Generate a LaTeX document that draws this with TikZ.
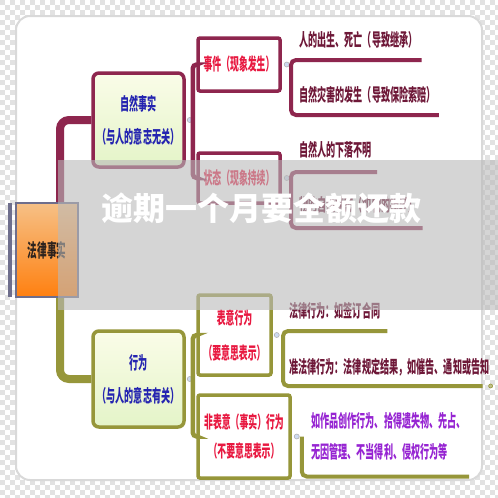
\documentclass[tikz,border=0pt]{standalone}
\usepackage{fontspec}
\usetikzlibrary{calc}
\newfontfamily\cjk[FakeStretch=0.52]{Noto Sans CJK SC}
\newfontfamily\wmfont{Noto Sans CJK SC}
\definecolor{maroonline}{RGB}{142,38,78}
\definecolor{oliveline}{RGB}{150,150,58}
\definecolor{boxred}{RGB}{232,24,64}
\definecolor{boxblue}{RGB}{36,36,176}
\definecolor{leafred}{RGB}{110,24,56}
\definecolor{leafpurple}{RGB}{150,36,210}
\definecolor{checkgray}{RGB}{226,226,226}
\definecolor{dotblue}{RGB}{205,218,242}
\definecolor{rootedge}{RGB}{110,110,140}
\definecolor{rootlight}{RGB}{246,192,134}
\definecolor{rootdark}{RGB}{255,128,16}
\definecolor{boxlight}{RGB}{250,252,232}
\definecolor{boxgreen}{RGB}{228,244,200}
\definecolor{veil}{RGB}{185,185,185}
\tikzset{
  bigbox/.style={rounded corners=6pt, line width=3.5pt, top color=boxlight, bottom color=boxgreen,
    text=boxblue, align=center, minimum width=91pt, inner sep=0pt,
    font=\cjk\bfseries\fontsize{17.5}{33}\selectfont},
  smallbox/.style={rounded corners=2pt, line width=3.5pt, fill=white, text=boxred, align=center,
    inner sep=0pt, font=\cjk\bfseries\fontsize{17}{33}\selectfont},
  rootbox/.style={draw=rootedge, line width=2pt, top color=rootlight, bottom color=rootdark,
    minimum width=62pt, minimum height=94pt, inner sep=0pt, text={rgb,255:red,45;green,35;blue,30},
    font=\cjk\bfseries\fontsize{18.5}{18}\selectfont},
  leaf/.style={anchor=west, inner sep=0pt, text=leafred,
    font=\cjk\bfseries\fontsize{17.5}{31}\selectfont},
  dot/.style={circle, minimum size=5pt, inner sep=0pt, fill=dotblue, draw=gray!60, line width=.6pt},
  mline/.style={draw=maroonline, line width=4.5pt},
  oline/.style={draw=oliveline, line width=4.5pt}
}
\begin{document}
\begin{tikzpicture}[x=1pt, y=-1pt]
\useasboundingbox (0,0) rectangle (498,498);
\fill[white] (0,0) rectangle (498,498);
\foreach \j in {0,...,99}{
  \pgfmathsetmacro\ph{5*mod(\j,2)}
  \draw[checkgray, line width=5pt, dash pattern=on 5pt off 5pt, dash phase=\ph pt] (0,\j*5+2.5) -- (498,\j*5+2.5);
}
\fill[white, rounded corners=14pt] (16,16) rectangle (482,480);
\draw[gray!30, line width=2pt, rounded corners=14pt] (16,16) rectangle (482,480);

\fill[rootedge] (8,203) rectangle (12,297);
\node[rootbox] (root) at (47,250) {法律事实};

\node[bigbox, draw=maroonline, minimum height=94pt] (nat) at (138.5,120) {自然事实\\（与人的意志无关）};
\node[bigbox, draw=oliveline, minimum height=96pt] (act) at (138.5,379) {行为\\（与人的意志有关）};
\draw[mline, line width=8pt, rounded corners=9pt] ([xshift=13pt]root.north) |- (nat.west);
\draw[oline, line width=8pt, rounded corners=9pt] ([xshift=13pt]root.south) |- (act.west);
\node[dot] at ($(nat.east)+(4,0)$) {};
\node[dot] at ($(act.east)+(4,0)$) {};

\node[smallbox, draw=maroonline, minimum width=82pt, minimum height=53pt] (evt) at (239,64.5) {事件（现象发生）};
\node[smallbox, draw=maroonline, minimum width=82pt, minimum height=50pt] (sta) at (239,178) {状态（现象持续）};
\draw[mline, rounded corners=4pt] (evt.west) -- ++(-3.5,0) |- (sta.west);
\node[dot] at ($(evt.east)+(5,0)$) {};
\node[dot] at ($(sta.east)+(5,0)$) {};

\node[smallbox, draw=oliveline, minimum width=73pt, minimum height=80pt,
  font=\cjk\bfseries\fontsize{17}{35}\selectfont] (expr) at (234.5,335) {表意行为\\（要意思表示）};
\node[smallbox, draw=oliveline, minimum width=92pt, minimum height=83pt,
  font=\cjk\bfseries\fontsize{17}{29}\selectfont] (nexp) at (244,436.5) {非表意（事实）行为\\（不要意思表示）};
\draw[oline, rounded corners=4pt] (expr.west) -- ++(-3.5,0) |- (nexp.west);
\node[dot] at ($(expr.east)+(4,0)$) {};
\node[dot] at ($(nexp.east)+(5,0)$) {};

\node[leaf] (born) at (299,40) {人的出生、死亡（导致继承）};
\node[leaf] (disaster) at (299,95) {自然灾害的发生（导致保险索赔）};
\draw[mline, line width=4pt, rounded corners=5pt] ($(born.east)+(4,20)$) -- ($(born.west)+(-8,20)$) |- ($(disaster.east)+(3,20)$);

\node[leaf] (missing) at (299,150) {自然人的下落不明};
\node[leaf] (decay) at (299,205) {物的自然状态（如物的损坏）};
\draw[mline, line width=4pt, rounded corners=5pt] ($(missing.east)+(5,22)$) -- ($(missing.west)+(-8,22)$) |- ($(decay.east)+(5,23)$);

\node[leaf] (contract) at (289,311) {法律行为：如签订合同};
\node[leaf] (quasi) at (289,367) {准法律行为：法律规定结果，如催告、通知或告知};
\draw[oline, line width=4pt, rounded corners=5pt] ($(contract.east)+(7,20)$) -- ($(contract.west)+(-6,20)$) |- ($(quasi.east)+(-7,19)$) coordinate (qend);
\node[dot, fill=oliveline!60, draw=oliveline, minimum size=4pt] at ($(qend)+(8,0)$) {};

\node[leaf, text=leafpurple, align=left] (others) at (311,436.5) {如作品创作行为、拾得遗失物、先占、\\无因管理、不当得利、侵权行为等};
\draw[oline, line width=4pt, rounded corners=5pt] ($(nexp.east)+(10,0)$) |- ($(others.east)+(3,40)$);

\fill[veil, opacity=.6] (58,160) rectangle (498,310);
\node[font=\wmfont\bfseries\fontsize{32}{32}\selectfont, text=white] (mark) at (261,208) {逾期一个月要全额还款};
\end{tikzpicture}
\end{document}
